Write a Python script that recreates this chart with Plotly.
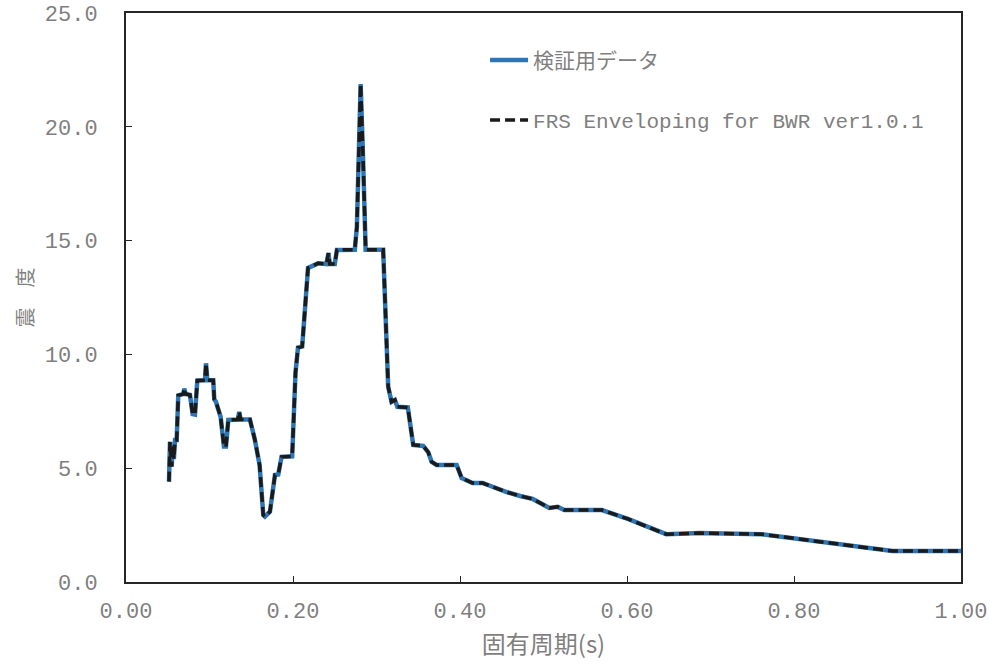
import plotly.graph_objects as go

# Natural period (s) and response (floor response spectrum)
period = [0.0515, 0.0527, 0.0547, 0.0559, 0.0573, 0.0587, 0.0607, 0.0626, 0.0686, 0.0698,
          0.0714, 0.0766, 0.0798, 0.0826, 0.0854, 0.0946, 0.0958, 0.0974, 0.1045, 0.1057,
          0.1077, 0.1133, 0.1173, 0.1197, 0.1225, 0.1340, 0.1356, 0.1372, 0.1484, 0.1544,
          0.1600, 0.1644, 0.1664, 0.1724, 0.1784, 0.1823, 0.1863, 0.1990, 0.2030, 0.2060,
          0.2110, 0.2180, 0.2240, 0.2300, 0.2400, 0.2425, 0.2440, 0.2500, 0.2526, 0.2740,
          0.2765, 0.2810, 0.2840, 0.2870, 0.3080, 0.3120, 0.3140, 0.3180, 0.3220, 0.3250,
          0.3375, 0.3440, 0.3560, 0.3620, 0.3660, 0.3720, 0.3960, 0.4020, 0.4150, 0.4270,
          0.4390, 0.4560, 0.4720, 0.4870, 0.5070, 0.5170, 0.5250, 0.5700, 0.6010, 0.6470,
          0.6870, 0.7610, 0.9180, 1.0000]

verification = [4.41, 6.16, 5.07, 6.02, 5.40, 6.24, 6.24, 8.20, 8.26, 8.50,
                8.26, 8.22, 7.38, 7.36, 8.85, 8.86, 9.61, 8.86, 8.86, 8.03,
                7.92, 7.26, 5.95, 5.95, 7.12, 7.14, 7.48, 7.14, 7.14, 6.24,
                5.14, 2.94, 2.87, 3.09, 4.70, 4.72, 5.50, 5.52, 9.20, 10.30,
                10.35, 13.80, 13.90, 14.00, 13.97, 14.45, 13.97, 13.97, 14.59, 14.60,
                15.60, 21.88, 18.50, 14.60, 14.60, 11.07, 8.58, 7.92, 8.00, 7.70,
                7.67, 6.02, 5.98, 5.70, 5.28, 5.14, 5.14, 4.57, 4.35, 4.35,
                4.17, 3.95, 3.78, 3.65, 3.25, 3.30, 3.16, 3.16, 2.77, 2.10,
                2.15, 2.10, 1.36, 1.36]

frs_envelope = list(verification)

series_names = ["検証用データ", "FRS Enveloping for BWR ver1.0.1"]

FONT = "Liberation Mono, Noto Sans CJK JP, monospace"
GRAY = "#7f7f7f"
AXIS = "#262626"

fig = go.Figure()
fig.add_trace(go.Scatter(
    x=period, y=verification, mode="lines", name=series_names[0],
    line=dict(color="#2E75B6", width=4.5), legend="legend", showlegend=True,
))
fig.add_trace(go.Scatter(
    x=period, y=frs_envelope, mode="lines", name=series_names[1],
    line=dict(color="#1a1a1a", width=3.5, dash="10px,5px"), legend="legend2",
    showlegend=True,
))

legend_common = dict(
    xanchor="left", yanchor="middle", bgcolor="rgba(0,0,0,0)", itemwidth=38,
    font=dict(family=FONT, size=21, color=GRAY),
)

fig.update_layout(
    width=989, height=665,
    margin=dict(l=126, r=28, t=13, b=83),
    paper_bgcolor="white", plot_bgcolor="white",
    showlegend=True,
    font=dict(family=FONT, color=GRAY),
    legend=dict(x=0.430, y=0.917, **legend_common),
    legend2=dict(x=0.430, y=0.8115, **legend_common),
    xaxis=dict(
        range=[0, 1], dtick=0.2, tick0=0, tickformat=".2f",
        showgrid=False, zeroline=False, automargin=False,
        showline=True, linecolor=AXIS, linewidth=2, mirror=True,
        ticks="inside", ticklen=6, tickcolor=AXIS, tickwidth=1,
        tickfont=dict(family=FONT, size=22, color=GRAY),
        ticklabelstandoff=8,
        title=dict(text="固有周期(s)", standoff=5,
                   font=dict(family="Noto Sans CJK JP", size=24, color=GRAY)),
    ),
    yaxis=dict(
        range=[0, 25], dtick=5, tick0=0, tickformat=".1f",
        showgrid=False, zeroline=False, automargin=False,
        showline=True, linecolor=AXIS, linewidth=2, mirror=True,
        ticks="inside", ticklen=6, tickcolor=AXIS, tickwidth=1,
        tickfont=dict(family=FONT, size=22, color=GRAY),
        ticklabelstandoff=22,
        title=dict(text="震　度", standoff=6,
                   font=dict(family="Noto Sans CJK JP", size=20, color=GRAY)),
    ),
)

fig.write_html("out.html")
